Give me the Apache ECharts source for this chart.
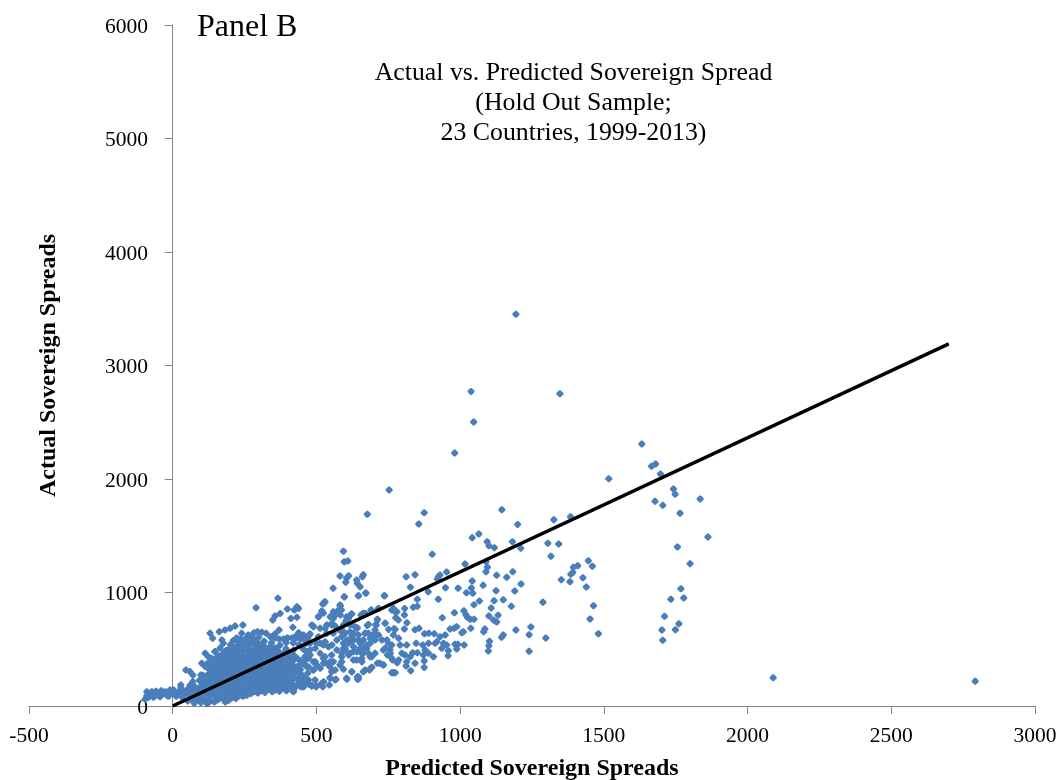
<!DOCTYPE html>
<html><head><meta charset="utf-8">
<style>html,body{margin:0;padding:0;background:#fff}#c{width:1064px;height:780px}</style>
<script src="https://cdn.jsdelivr.net/npm/echarts@6/dist/echarts.min.js"></script>
</head><body><div id="c"></div>
<script>
const panelLabel = "Panel B";
const chartTitle = "Actual vs. Predicted Sovereign Spread\n(Hold Out Sample;\n23 Countries, 1999-2013)";
const xAxisTitle = "Predicted Sovereign Spreads";
const yAxisTitle = "Actual Sovereign Spreads";
const fitLine = [[0,0],[2700,3190]];
const outliers = [[1632,2308],[1517,2003],[1666,2112],[1680,2132],[1697,2044],[1742,1912],[1748,1865],[1678,1803],[1705,1768],[1835,1824],[1765,1698],[1862,1489],[1756,1401],[1800,1254],[1768,1033],[1778,951],[1733,940],[1711,790],[1761,725],[1702,670],[1749,672],[1705,579],[2089,249],[2792,218],[1194,3451],[1038,2772],[1347,2752],[1047,2502],[981,2229],[753,1903],[875,1703],[856,1603],[1145,1729],[1200,1600],[1326,1641],[1384,1668],[1042,1483],[1065,1515]];
const upperMid = [[677,1689],[1094,1447],[1100,1412],[1119,1395],[1182,1447],[1211,1389],[1305,1433],[1343,1427],[1316,1319],[903,1336],[594,1363],[597,1271],[609,1277],[1017,1251],[1090,1271],[1095,1222],[1090,1183],[1127,1151],[1162,1134],[1183,1183],[1212,1075],[1190,1013],[1080,1063],[1042,1101],[1039,1040],[1044,993],[1022,998],[993,1037],[949,1042],[953,1180],[930,1154],[921,1119],[925,1140],[843,1157],[812,1139],[827,1046],[889,1007],[736,972],[851,940],[924,940],[1048,892],[1067,925],[1118,928],[1150,936],[1125,1016],[1178,878],[1108,863],[1132,799],[1100,793],[1116,758],[1127,740],[1082,655],[1086,678],[1037,684],[1194,670],[1246,696],[1240,628],[1298,599],[1240,482],[1150,625],[1144,605],[1102,570],[1100,531],[1098,484],[1288,914],[1352,1113],[1382,1095],[1385,1160],[1394,1222],[1409,1236],[1392,1177],[1446,1280],[1460,1231],[1427,1130],[1439,1048],[1464,884],[1452,767],[1481,637]];
const midBand = [[980,822],[938,778],[1013,840],[1020,804],[1025,781],[1048,764],[1035,764],[988,699],[965,678],[979,684],[1011,655],[1006,646],[1014,537],[982,543],[992,543],[988,502],[958,443],[910,637],[891,640],[876,637],[843,672],[857,684],[806,678],[815,734],[768,625],[770,681],[739,728],[706,716],[677,710],[642,690],[768,860],[780,831],[776,778],[785,758],[807,860],[806,802],[837,869],[851,878],[716,860],[691,846],[663,817],[655,802],[712,758],[623,811],[605,787],[582,890],[587,846],[559,831],[565,802],[576,817],[519,837],[528,914],[522,899],[507,787],[524,817],[597,960],[646,972],[672,995],[582,1145],[612,1148],[605,1125],[602,1090],[660,1139],[663,1157],[640,1110],[642,1081],[652,1051],[558,1037],[487,705]];
const lowerBand = [[484,176],[499,170],[518,199],[522,170],[545,185],[568,235],[547,249],[605,244],[646,238],[643,258],[663,302],[689,332],[762,293],[771,293],[828,311],[875,340],[843,376],[812,352],[781,381],[765,405],[733,361],[712,376],[623,302],[594,323],[455,229],[443,258],[472,346],[489,317],[501,361],[536,376],[553,302],[559,390],[588,434],[600,493],[617,464],[629,523],[640,405],[658,390],[663,464],[652,552],[675,508],[687,552],[704,581],[716,625],[698,625],[704,464],[692,434],[721,376],[733,493],[750,552],[756,493],[747,449],[791,537],[814,537],[797,464],[808,449],[814,390],[847,552],[870,537],[878,493],[890,552],[919,567],[942,552],[953,537],[936,508],[959,487],[907,434],[890,464],[872,449],[851,470],[835,470],[875,396],[826,434],[930,611],[948,625],[913,552],[594,552],[571,493],[553,449],[524,537],[501,552],[478,493],[489,390],[460,434],[513,464],[542,522],[530,434],[466,552],[449,611],[478,634],[513,684],[530,684],[553,713],[588,669],[594,713],[617,655],[634,699],[646,625],[623,611],[669,640],[663,581],[681,640],[588,611],[559,640],[594,508],[629,581],[646,581],[611,552],[681,464],[652,508],[629,478],[524,420],[547,346],[582,361],[495,229],[466,229],[443,199],[455,170]];
const innerBand = [[366,949],[348,758],[356,793],[374,816],[399,855],[423,846],[432,875],[438,860],[411,772],[432,781],[418,693],[438,646],[356,634],[370,670],[476,631],[484,714],[490,699],[507,787],[519,831],[530,919],[525,904],[583,884],[565,816],[577,846],[583,802],[597,963],[646,972],[672,993],[737,972],[548,787],[559,772],[621,811],[612,772],[603,752],[658,802],[670,816],[690,846],[716,860],[762,846],[774,831],[712,764],[681,719],[708,714],[739,728],[704,670],[751,675],[774,675],[554,728],[565,705],[536,714],[577,675],[588,655],[617,714],[641,684],[629,640],[670,640],[687,596],[710,625],[728,581],[745,581],[762,537],[739,508],[757,464],[786,596],[786,405],[762,420],[733,361],[766,294],[774,294],[693,341],[685,317],[670,317],[646,258],[643,235],[623,302],[606,235],[565,229],[588,390],[629,405],[658,420],[687,435],[675,537],[664,508],[646,581],[623,567],[606,581],[600,508],[588,464],[612,449],[641,479],[658,464],[571,581],[554,537],[530,567],[513,552],[496,508],[478,449],[496,390],[525,376],[548,390],[565,317],[548,244],[525,214],[501,179],[484,179],[420,126],[397,156],[380,156],[356,141],[345,147],[455,170],[472,229],[461,361],[449,273],[490,317],[513,332],[472,420],[455,625],[426,611],[397,596],[449,523],[478,552],[507,611],[536,640],[600,640]];
const blobEdge = [[130,640],[139,596],[162,655],[182,670],[200,684],[217,705],[244,714],[290,866],[240,640],[263,626],[283,646],[171,581],[176,552],[205,523],[234,552],[217,493],[113,464],[124,435],[147,479],[101,376],[113,347],[46,317],[60,303],[70,273],[98,273],[28,185]];
const tail = [[-90,126],[-73,126],[-61,112],[-44,112],[-26,126],[-9,141],[3,141],[-96,59],[-84,76],[-67,76],[-44,82],[-21,97],[12,85],[20,120],[-80,105],[-52,95],[-35,105],[-12,110],[8,105],[-58,130]];
const blobCore = [[35,70],[38,125],[28,160],[52,45],[58,95],[49,140],[60,180],[75,25],[72,75],[80,125],[77,170],[70,215],[98,30],[95,80],[102,130],[100,180],[93,225],[105,270],[120,20],[125,70],[118,120],[123,170],[127,220],[120,270],[128,320],[118,370],[135,420],[145,35],[148,85],[142,135],[150,185],[146,235],[152,285],[144,335],[150,385],[156,435],[148,480],[170,70],[172,120],[168,170],[175,220],[170,270],[176,320],[169,370],[174,420],[178,470],[165,510],[195,50],[192,100],[198,150],[194,200],[199,250],[192,300],[197,350],[193,400],[200,450],[195,500],[201,540],[220,65],[218,115],[224,165],[219,215],[225,265],[218,315],[223,365],[217,415],[226,465],[220,515],[228,565],[222,600],[245,85],[243,135],[248,185],[242,235],[247,285],[244,335],[249,385],[241,435],[246,485],[243,535],[250,585],[272,110],[268,160],[273,210],[269,260],[274,310],[267,360],[271,410],[275,460],[266,510],[272,560],[270,615],[296,115],[293,165],[298,215],[292,265],[297,315],[294,365],[299,415],[291,465],[296,515],[293,565],[299,605],[321,120],[318,170],[323,220],[317,270],[322,320],[319,370],[324,420],[316,470],[321,520],[318,570],[346,125],[343,175],[348,225],[344,275],[349,325],[342,375],[347,425],[345,475],[343,555],[371,130],[368,180],[373,230],[369,280],[374,330],[367,380],[372,430],[368,480],[373,535],[396,135],[393,185],[398,235],[394,285],[399,335],[392,385],[397,435],[394,505],[421,145],[418,195],[423,245],[419,295],[424,345],[417,395],[422,445],[419,490],[446,170],[443,220],[448,270],[444,320],[447,365],[443,400]];
const blobFill = [[88,55],[86,105],[90,150],[110,55],[108,105],[112,155],[113,205],[110,245],[132,45],[134,95],[131,145],[136,195],[133,245],[138,295],[135,345],[131,395],[157,55],[159,105],[155,155],[160,205],[158,255],[156,305],[161,355],[159,405],[183,35],[181,90],[185,140],[182,190],[186,240],[184,290],[180,340],[187,395],[184,445],[186,490],[208,75],[206,130],[210,180],[207,230],[211,280],[205,330],[209,380],[206,435],[212,480],[208,530],[210,575],[232,90],[234,140],[231,190],[235,240],[233,290],[230,340],[236,395],[232,440],[234,490],[231,550],[235,590],[258,95],[256,150],[260,200],[257,245],[261,295],[255,345],[259,395],[257,440],[262,490],[258,540],[256,590],[283,125],[281,190],[285,240],[282,285],[286,340],[280,390],[284,440],[282,490],[286,540],[281,590],[308,135],[306,195],[310,245],[307,295],[311,345],[305,395],[309,445],[307,495],[311,545],[333,150],[331,205],[335,250],[332,300],[336,350],[330,400],[334,450],[332,500],[358,155],[356,205],[360,255],[357,305],[361,355],[355,405],[359,455],[357,510],[383,160],[381,210],[385,260],[382,310],[386,360],[380,410],[384,460],[408,170],[406,220],[410,270],[407,320],[411,370],[405,420],[409,470],[432,180],[434,240],[431,300],[435,350],[433,420],[-75,100],[-90,90],[-40,135],[-15,85],[30,100],[42,105],[65,130],[64,60]];
const blobDense = [[139,110],[141,165],[138,215],[143,265],[140,315],[142,365],[137,410],[163,80],[165,135],[163,185],[166,240],[164,290],[162,340],[165,390],[163,440],[189,70],[188,120],[190,170],[187,220],[191,270],[189,320],[186,370],[190,425],[188,470],[213,95],[214,150],[212,200],[215,250],[213,300],[214,350],[212,400],[215,450],[213,505],[238,110],[240,160],[237,210],[239,260],[241,310],[238,360],[240,415],[238,465],[240,515],[263,125],[264,175],[262,225],[265,275],[263,325],[264,375],[262,425],[265,475],[263,525],[288,145],[289,205],[287,255],[290,305],[288,355],[289,405],[287,455],[290,510],[288,560],[313,150],[314,210],[312,260],[315,310],[313,360],[314,410],[312,460],[315,510],[338,165],[339,225],[337,265],[340,315],[338,365],[339,415],[337,465],[340,525],[363,170],[364,220],[362,270],[365,320],[363,370],[364,420],[362,470],[388,180],[389,225],[387,275],[390,325],[388,375],[389,425],[413,185],[414,235],[412,285],[415,335],[413,385],[414,440],[370,590],[385,590],[400,600],[415,600],[430,600],[445,590],[460,580],[470,600],[395,560],[420,555],[440,540],[455,500],[465,480],[470,440],[460,400],[465,350],[470,290],[458,250],[462,205],[475,190],[310,650],[325,640],[295,655],[340,610],[355,600]];
const points = [].concat(outliers, upperMid, midBand, lowerBand, innerBand, blobEdge, tail, blobCore, blobFill, blobDense);
const serif = "'Liberation Serif','Times New Roman',serif";
const axisGray = "#868686";
const chart = echarts.init(document.getElementById('c'), null, {renderer:'canvas'});
chart.setOption({
  animation:false,
  backgroundColor:'#fff',
  title:[
    {text:panelLabel,left:192,top:7,textStyle:{fontFamily:serif,fontSize:32,fontWeight:'normal',color:'#000'}},
    {text:chartTitle,left:568.5,top:53,textAlign:'center',textStyle:{fontFamily:serif,fontSize:25.8,fontWeight:'normal',color:'#000',lineHeight:30,align:'center'}}
  ],
  grid:{left:29,right:29,top:25,bottom:74,outerBoundsMode:'none'},
  xAxis:{type:'value',min:-500,max:3000,interval:500,splitLine:{show:false},
    axisLine:{lineStyle:{color:axisGray,width:1}},axisTick:{show:true,length:8,lineStyle:{color:axisGray}},
    axisLabel:{fontFamily:serif,fontSize:21.5,color:'#000',margin:19,hideOverlap:false,formatter:v=>String(v)},
    name:xAxisTitle,nameLocation:'center',nameGap:51,nameTextStyle:{fontFamily:serif,fontSize:24,fontWeight:'bold',color:'#000'}},
  yAxis:{type:'value',min:0,max:6000,interval:1000,splitLine:{show:false},
    axisLine:{show:true,onZero:true,lineStyle:{color:axisGray,width:1}},axisTick:{show:true,length:8,lineStyle:{color:axisGray}},
    axisLabel:{fontFamily:serif,fontSize:21.5,color:'#000',margin:-119,verticalAlign:'top',lineHeight:4,hideOverlap:false,formatter:v=>String(v)},
    name:yAxisTitle,nameLocation:'center',nameGap:-32,nameRotate:90,nameTextStyle:{fontFamily:serif,fontSize:24,fontWeight:'bold',color:'#000'}},
  series:[
    {type:'scatter',data:points,symbol:'path://M4,0 L6,0 L10,4 L10,6 L6,10 L4,10 L0,6 L0,4 Z',symbolSize:7,itemStyle:{color:'#4a7ebb',opacity:1},silent:true,z:2},
    {type:'line',data:fitLine,symbol:'none',lineStyle:{color:'#000',width:3.5},silent:true,z:3}
  ]
});
</script></body></html>
